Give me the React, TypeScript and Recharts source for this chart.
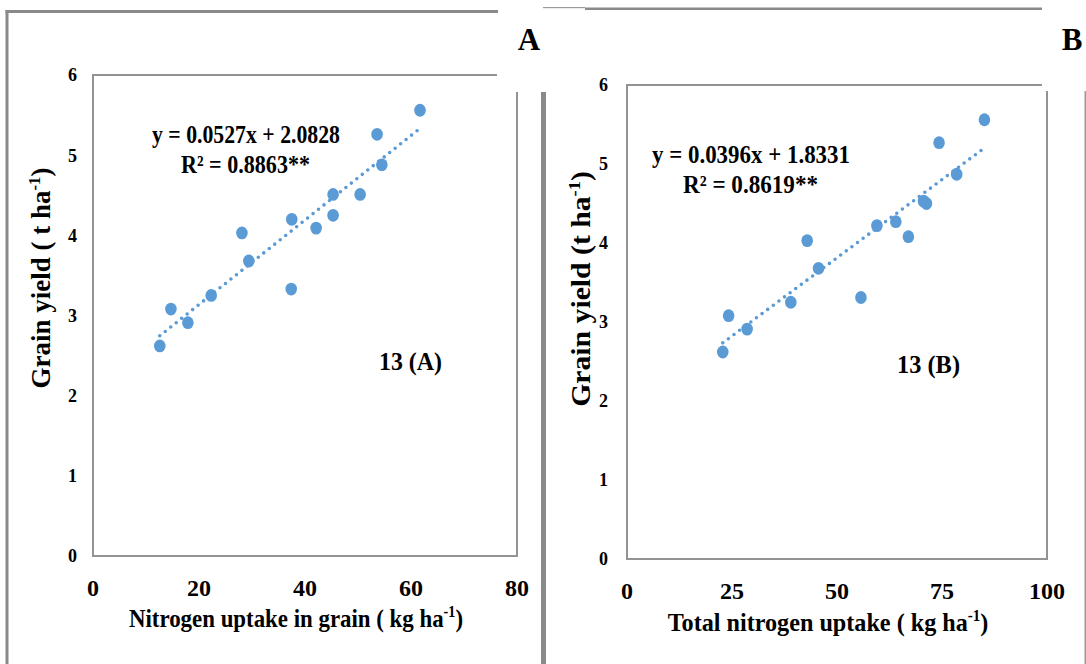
import React from "react";
import {
  ScatterChart,
  Scatter,
  XAxis,
  YAxis,
  ReferenceArea,
  ReferenceLine,
  Label,
} from "recharts";

// 13 (A): nitrogen uptake in grain vs grain yield
const nGrain = [12.6, 14.7, 17.9, 22.3, 28.1, 29.4, 37.4, 37.5, 42.1, 45.3, 45.3, 50.4, 53.6, 54.5, 61.7];
const yieldA = [2.62, 3.08, 2.91, 3.25, 4.03, 3.68, 3.33, 4.2, 4.09, 4.51, 4.25, 4.51, 5.26, 4.88, 5.56];

// 13 (B): total nitrogen uptake vs grain yield
const nTotal = [22.8, 24.2, 28.6, 39.0, 42.9, 45.6, 55.7, 59.5, 64.0, 67.0, 70.6, 71.3, 74.3, 78.5, 85.1];
const yieldB = [2.62, 3.08, 2.91, 3.25, 4.03, 3.68, 3.31, 4.22, 4.27, 4.08, 4.53, 4.5, 5.27, 4.87, 5.56];

const xTicksA = [0, 20, 40, 60, 80];
const xTicksB = [0, 25, 50, 75, 100];
const yTicks = [0, 1, 2, 3, 4, 5, 6];

const fitA = { slope: 0.0527, intercept: 2.0828 };
const fitB = { slope: 0.0396, intercept: 1.8331 };

const dotColor = "#5b9bd5";
const boxColor = "#939393";
const frameColor = "#8a8a8a";
const serif = '"Liberation Serif", "Times New Roman", serif';

const toPoints = (xs: number[], ys: number[]) => xs.map((x, i) => ({ x, y: ys[i] }));

const fitSegment = (xs: number[], fit: { slope: number; intercept: number }) => {
  const lo = Math.min(...xs);
  const hi = Math.max(...xs);
  return [
    { x: lo, y: fit.slope * lo + fit.intercept },
    { x: hi, y: fit.slope * hi + fit.intercept },
  ];
};

const Dot = (props: any) => (
  <ellipse cx={props.cx} cy={props.cy} rx={5.8} ry={6.4} fill={dotColor} />
);

const XTitle = ({ viewBox, text, dx, baseline, sx, size }: any) => {
  const cx = viewBox.x + viewBox.width / 2 + dx;
  return (
    <text
      transform={`translate(${cx},${viewBox.y + baseline}) scale(${sx},1)`}
      textAnchor="middle"
      fontFamily={serif}
      fontWeight="bold"
      fontSize={size}
      fill="#000"
    >
      {text}
      <tspan dy={-10} fontSize={size * 0.62}>-1</tspan>
      <tspan dy={10}>)</tspan>
    </text>
  );
};

const YTitle = ({ text, cx, cy, sx, size }: any) => (
  <text
    transform={`translate(${cx},${cy}) rotate(-90) scale(${sx},1)`}
    textAnchor="middle"
    fontFamily={serif}
    fontWeight="bold"
    fontSize={size}
    fill="#000"
  >
    {text}
    <tspan dy={-10} fontSize={size * 0.62}>-1</tspan>
    <tspan dy={10}>)</tspan>
  </text>
);

const tickX = { fontFamily: serif, fontWeight: "bold", fontSize: 24, fill: "#000" };
const tickY = { fontFamily: serif, fontWeight: "bold", fontSize: 18, fill: "#000" };

interface PanelProps {
  left: number;
  xs: number[];
  ys: number[];
  fit: { slope: number; intercept: number };
  xTicks: number[];
  margin: { top: number; right: number; bottom: number; left: number };
  yAxisWidth: number;
  xAxisHeight: number;
  yTickMargin: number;
  xTitle: string;
  xTitleDx: number;
  xTitleBaseline: number;
  xTitleScale: number;
  yTitle: string;
  yTitleX: number;
  yTitleY: number;
  yTitleScale: number;
}

const Panel = (p: PanelProps) => {
  const xMax = p.xTicks[p.xTicks.length - 1];
  return (
    <div style={{ position: "absolute", left: p.left, top: 0 }}>
      <ScatterChart width={543} height={664} margin={p.margin}>
        <XAxis
          type="number"
          dataKey="x"
          domain={[0, xMax]}
          ticks={p.xTicks}
          axisLine={false}
          tickLine={false}
          tickSize={6}
          tickMargin={17}
          height={p.xAxisHeight}
          tick={tickX}
        >
          <Label
            content={(props: any) => (
              <XTitle
                viewBox={props.viewBox}
                text={p.xTitle}
                dx={p.xTitleDx}
                baseline={p.xTitleBaseline}
                sx={p.xTitleScale}
                size={26}
              />
            )}
          />
        </XAxis>
        <YAxis
          type="number"
          dataKey="y"
          domain={[0, 6]}
          ticks={yTicks}
          axisLine={false}
          tickLine={false}
          tickSize={6}
          tickMargin={p.yTickMargin}
          width={p.yAxisWidth}
          tick={tickY}
        >
          <Label
            content={() => (
              <YTitle
                text={p.yTitle}
                cx={p.yTitleX}
                cy={p.yTitleY}
                sx={p.yTitleScale}
                size={27}
              />
            )}
          />
        </YAxis>
        <ReferenceArea
          x1={0}
          x2={xMax}
          y1={0}
          y2={6}
          fill="none"
          stroke={boxColor}
          strokeWidth={2}
        />
        <ReferenceLine
          segment={fitSegment(p.xs, p.fit)}
          stroke={dotColor}
          strokeWidth={3.6}
          strokeDasharray="0 7"
          strokeLinecap="round"
        />
        <Scatter data={toPoints(p.xs, p.ys)} shape={Dot} isAnimationActive={false} />
      </ScatterChart>
    </div>
  );
};

const eqStyle = { fontFamily: serif, fontWeight: "bold" as const, fontSize: 25, fill: "#000" };

export default function App() {
  return (
    <div
      style={{
        position: "absolute",
        left: 0,
        top: 0,
        width: 1086,
        height: 664,
        background: "#fff",
        overflow: "hidden",
        fontFamily: serif,
      }}
    >
      <Panel
        left={0}
        xs={nGrain}
        ys={yieldA}
        fit={fitA}
        xTicks={xTicksA}
        margin={{ top: 75, right: 26, bottom: 0, left: 0 }}
        yAxisWidth={93}
        xAxisHeight={108}
        yTickMargin={10}
        xTitle="Nitrogen uptake in grain ( kg ha"
        xTitleDx={-9}
        xTitleBaseline={71}
        xTitleScale={0.88}
        yTitle="Grain yield ( t ha"
        yTitleX={50}
        yTitleY={278}
        yTitleScale={1.0}
      />
      <Panel
        left={543}
        xs={nTotal}
        ys={yieldB}
        fit={fitB}
        xTicks={xTicksB}
        margin={{ top: 85, right: 39, bottom: 0, left: 0 }}
        yAxisWidth={84}
        xAxisHeight={105}
        yTickMargin={13}
        xTitle="Total nitrogen uptake ( kg ha"
        xTitleDx={-9}
        xTitleBaseline={72}
        xTitleScale={0.93}
        yTitle="Grain yield (t ha"
        yTitleX={47}
        yTitleY={289}
        yTitleScale={1.1}
      />
      <svg
        width={1086}
        height={664}
        style={{ position: "absolute", left: 0, top: 0, pointerEvents: "none" }}
      >
        {/* white patches where the two pasted figures overlap */}
        <rect x={497} y={0} width={49} height={92} fill="#fff" />
        <rect x={1042} y={0} width={44} height={91} fill="#fff" />

        {/* outer frames */}
        <rect x={5.5} y={10} width={3} height={654} fill={frameColor} />
        <rect x={5.5} y={10} width={492.5} height={3} fill={frameColor} />
        <rect x={541} y={92} width={5} height={572} fill={frameColor} />
        <rect x={543} y={7} width={42} height={1.2} fill="#9a9a9a" />
        <rect x={585} y={7.5} width={457} height={2.5} fill={frameColor} />
        <rect x={1084.5} y={91} width={1.5} height={573} fill="#9a9a9a" />

        {/* panel letters */}
        <text x={529} y={50} textAnchor="middle" fontFamily={serif} fontWeight="bold" fontSize={31}>A</text>
        <text x={1072} y={50} textAnchor="middle" fontFamily={serif} fontWeight="bold" fontSize={31}>B</text>

        {/* regression equations */}
        <text x={152} y={143} textLength={188} lengthAdjust="spacingAndGlyphs" {...eqStyle}>
          y = 0.0527x + 2.0828
        </text>
        <text x={181} y={173} textLength={129} lengthAdjust="spacingAndGlyphs" {...eqStyle}>
          R² = 0.8863**
        </text>
        <text x={379} y={370} textLength={63} lengthAdjust="spacingAndGlyphs" {...eqStyle}>
          13 (A)
        </text>

        <text x={652} y={163} textLength={198} lengthAdjust="spacingAndGlyphs" {...eqStyle}>
          y = 0.0396x + 1.8331
        </text>
        <text x={683} y={193} textLength={135} lengthAdjust="spacingAndGlyphs" {...eqStyle}>
          R² = 0.8619**
        </text>
        <text x={897} y={373} textLength={63} lengthAdjust="spacingAndGlyphs" {...eqStyle}>
          13 (B)
        </text>
      </svg>
    </div>
  );
}
